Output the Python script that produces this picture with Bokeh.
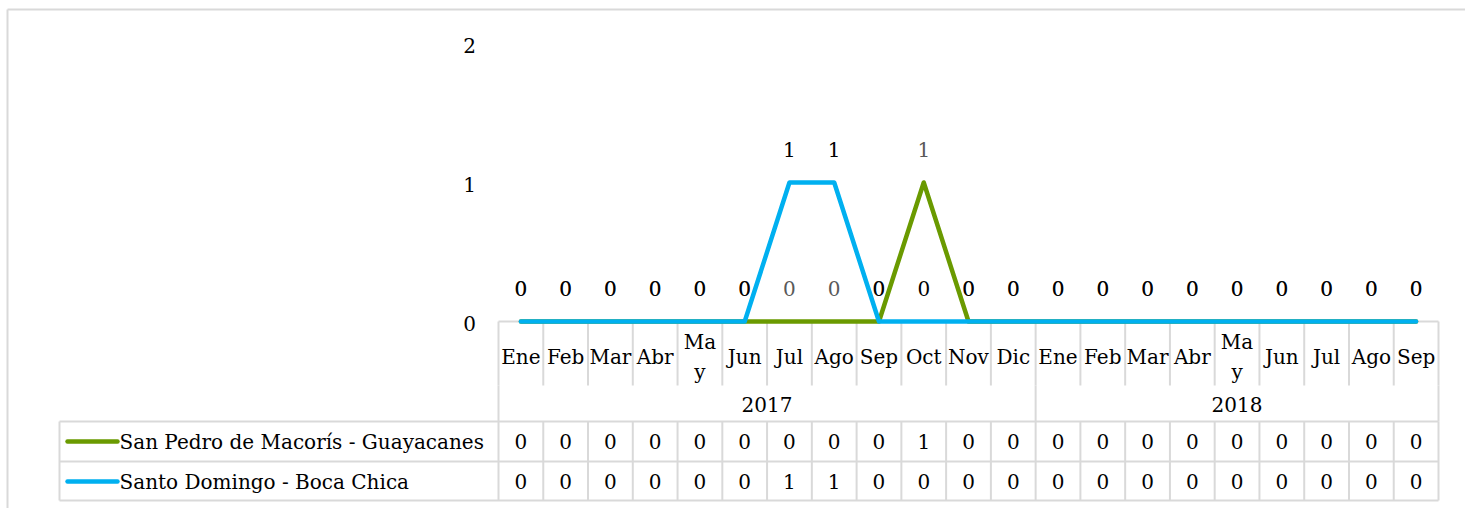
import numpy as np
from bokeh.plotting import figure
from bokeh.models import Range1d, ColumnDataSource
from bokeh.embed import file_html
from bokeh.resources import INLINE
from bokeh.core.properties import value

# ---------------- data ----------------
months = ["Ene", "Feb", "Mar", "Abr", "Ma\ny", "Jun", "Jul", "Ago", "Sep", "Oct", "Nov", "Dic",
          "Ene", "Feb", "Mar", "Abr", "Ma\ny", "Jun", "Jul", "Ago", "Sep"]
years = ["2017", "2018"]
year_counts = [12, 9]
series_names = ["San Pedro de Macorís - Guayacanes", "Santo Domingo - Boca Chica"]
spm_values = [0, 0, 0, 0, 0, 0, 0, 0, 0, 1, 0, 0, 0, 0, 0, 0, 0, 0, 0, 0, 0]
sdb_values = [0, 0, 0, 0, 0, 0, 1, 1, 0, 0, 0, 0, 0, 0, 0, 0, 0, 0, 0, 0, 0]
y_ticks = [0, 1, 2]
series_colors = ["#6A9A00", "#00B0F0"]
label_colors = ["#595959", "#000000"]

# ---------------- layout ----------------
W, H = 1465, 508
PAGE = 0
PLOT_L, PLOT_R = 498, 1438      # page px of category axis
ZERO_PX, TOP_PX = 321, 43       # page px of y=0 and y=max tick
n = len(months)
cell = (PLOT_R - PLOT_L) / n
unit = (ZERO_PX - TOP_PX) / y_ticks[-1]


def X(px):
    return (px - PLOT_L) / cell - 0.5


def Y(py):
    return (ZERO_PX - py) / unit


FONT = value("DejaVu Serif")
FS = "20px"
GRID = "#D9D9D9"

p = figure(width=W, height=H, output_backend="svg", toolbar_location=None,
           x_range=Range1d(X(PAGE), X(PAGE + W)), y_range=Range1d(Y(PAGE + H), Y(PAGE)),
           min_border=0, min_border_left=0, min_border_right=0,
           min_border_top=0, min_border_bottom=0)
p.axis.visible = False
p.grid.visible = False
p.outline_line_color = None
p.background_fill_color = "white"

xs = np.arange(n)
bounds = np.arange(n + 1) - 0.5

# outer chart border (top and left visible)
p.segment(x0=[X(7), X(7)], y0=[Y(9), Y(9)], x1=[X(PAGE + W), X(7)], y1=[Y(9), Y(PAGE + H)],
          line_color=GRID, line_width=2)

# category axis: month row verticals
p.segment(x0=bounds, y0=Y(ZERO_PX), x1=bounds, y1=Y(385), line_color=GRID, line_width=2)
# year row verticals
yb = np.concatenate([[0], np.cumsum(year_counts)]) - 0.5
p.segment(x0=yb, y0=Y(385), x1=yb, y1=Y(421), line_color=GRID, line_width=2)
# table verticals
tv = np.concatenate([[X(59)], bounds])
p.segment(x0=tv, y0=Y(421), x1=tv, y1=Y(500), line_color=GRID, line_width=2)
# horizontals
p.segment(x0=[-0.5], y0=[0], x1=[n - 0.5], y1=[0], line_color=GRID, line_width=2)
hy = [Y(421), Y(461), Y(500)]
p.segment(x0=[X(59)] * 3, y0=hy, x1=[n - 0.5] * 3, y1=hy, line_color=GRID, line_width=2)

# series lines
all_values = [spm_values, sdb_values]
for vals, col in zip(all_values, series_colors):
    p.line(xs, vals, line_color=col, line_width=4.5, line_cap="round", line_join="round")

# data labels
for vals, lc in zip(all_values, label_colors):
    src = ColumnDataSource(dict(x=xs, y=vals, t=[str(v) for v in vals]))
    p.text(x="x", y="y", text="t", source=src, y_offset=-33, text_align="center",
           text_baseline="middle", text_font=FONT, text_font_size=FS, text_color=lc)

# y tick labels
p.text(x=[X(469)] * len(y_ticks), y=y_ticks, text=[str(t) for t in y_ticks], y_offset=2,
       text_align="center", text_baseline="middle", text_font=FONT, text_font_size=FS,
       text_color="#000000")

# month labels
p.text(x=xs, y=[Y(356)] * n, text=months, text_align="center", text_baseline="middle",
       text_font=FONT, text_font_size=FS, text_color="#000000", text_line_height=1.25)

# year labels
starts = np.concatenate([[0], np.cumsum(year_counts)[:-1]])
ycent = [s + (c - 1) / 2 for s, c in zip(starts, year_counts)]
p.text(x=ycent, y=[Y(404)] * len(years), text=years, text_align="center", text_baseline="middle",
       text_font=FONT, text_font_size=FS, text_color="#000000")

# data table rows
for r, (name, vals, col) in enumerate(zip(series_names, all_values, series_colors)):
    ry = Y(441 + 40 * r)
    p.line([X(67), X(117)], [ry, ry], line_color=col, line_width=4.5, line_cap="round")
    p.text(x=[X(119)], y=[ry], text=[name], text_align="left", text_baseline="middle",
           text_font=FONT, text_font_size=FS, text_color="#000000")
    p.text(x=xs, y=[ry] * n, text=[str(v) for v in vals], text_align="center",
           text_baseline="middle", text_font=FONT, text_font_size=FS, text_color="#000000")

open("out.html", "w").write(file_html(p, INLINE))
